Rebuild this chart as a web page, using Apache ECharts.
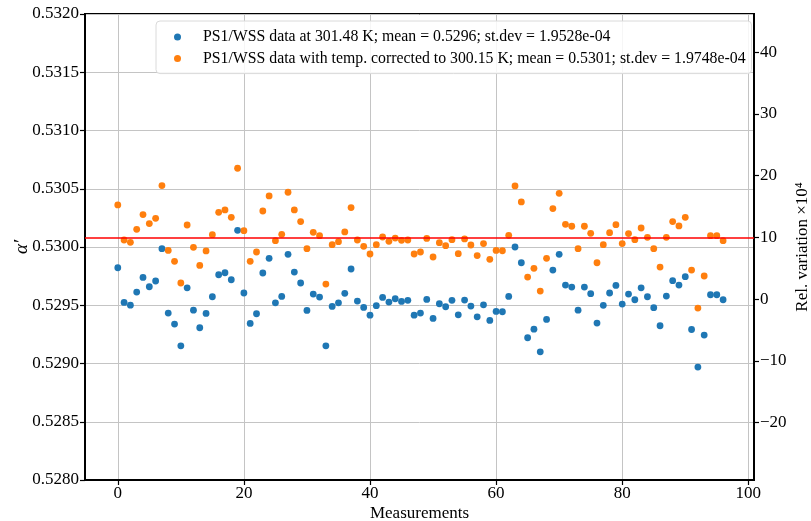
<!DOCTYPE html>
<html><head><meta charset="utf-8">
<script src="https://cdn.jsdelivr.net/npm/echarts@6/dist/echarts.min.js"></script>
<style>html,body{margin:0;padding:0;background:#fff}#c{width:811px;height:521px}</style>
</head><body><div id="c"></div>
<script>
// ---- data ----
const seriesNames = [
  'PS1/WSS data at 301.48 K; mean = 0.5296; st.dev = 1.9528e-04',
  'PS1/WSS data with temp. corrected to 300.15 K; mean = 0.5301; st.dev = 1.9748e-04'
];
const rawAlpha = [0.529822,0.529524,0.529501,0.529613,0.529739,0.529659,0.529708,0.529986,0.529433,0.529338,
0.529152,0.529650,0.529458,0.529307,0.529430,0.529573,0.529762,0.529779,0.529719,0.530143,
0.529605,0.529344,0.529427,0.529777,0.529903,0.529521,0.529576,0.529937,0.529785,0.529691,
0.529456,0.529596,0.529570,0.529152,0.529490,0.529521,0.529602,0.529811,0.529536,0.529481,
0.529415,0.529496,0.529567,0.529527,0.529556,0.529533,0.529542,0.529415,0.529433,0.529550,
0.529387,0.529513,0.529487,0.529542,0.529418,0.529544,0.529493,0.529401,0.529504,0.529370,
0.529447,0.529444,0.529576,0.530000,0.529865,0.529221,0.529295,0.529100,0.529378,0.529802,
0.529937,0.529673,0.529656,0.529458,0.529656,0.529599,0.529347,0.529499,0.529605,0.529670,
0.529510,0.529596,0.529547,0.529650,0.529573,0.529479,0.529324,0.529579,0.529711,0.529673,
0.529745,0.529292,0.528969,0.529244,0.529590,0.529590,0.529547];
const correctedAlpha = [0.530361,0.530060,0.530040,0.530152,0.530278,0.530201,0.530246,0.530527,0.529971,0.529877,
0.529691,0.530189,0.529997,0.529842,0.529966,0.530106,0.530298,0.530318,0.530255,0.530676,
0.530140,0.529877,0.529957,0.530309,0.530438,0.530054,0.530109,0.530470,0.530318,0.530218,
0.529986,0.530126,0.530097,0.529682,0.530020,0.530046,0.530129,0.530338,0.530060,0.530006,
0.529940,0.530020,0.530086,0.530049,0.530077,0.530057,0.530060,0.529940,0.529957,0.530074,
0.529914,0.530037,0.530011,0.530063,0.529943,0.530069,0.530017,0.529926,0.530029,0.529894,
0.529971,0.529968,0.530100,0.530524,0.530387,0.529742,0.529817,0.529622,0.529903,0.530330,
0.530461,0.530195,0.530178,0.529986,0.530178,0.530117,0.529865,0.530020,0.530123,0.530192,
0.530029,0.530115,0.530063,0.530163,0.530083,0.529986,0.529828,0.530083,0.530218,0.530181,
0.530255,0.529802,0.529476,0.529751,0.530097,0.530097,0.530054];
const measurements = rawAlpha.map((_, i) => i);
const leftRange = [0.5280, 0.5320];
const leftStep = 0.0005;
const xRange = [-5.2, 100.9];
const xStep = 20;
const relStep = 10;
const redLineRel = 10;   // red reference line, in rel. variation x10^4

// ---- derived ----
const refMean = rawAlpha.reduce((a, b) => a + b, 0) / rawAlpha.length;
const toRel = v => (v / refMean - 1) * 1e4;
const fromRel = r => refMean * (1 + r / 1e4);
const rightRange = [toRel(leftRange[0]), toRel(leftRange[1])];

const FONT = '"Liberation Serif", "DejaVu Serif", serif';
const minus = s => String(s).replace('-', '\u2212');
const chart = echarts.init(document.getElementById('c'), null, {renderer: 'canvas'});
const axisLbl = {color: '#000', fontFamily: FONT, fontSize: 17};
chart.setOption({
  animation: false,
  backgroundColor: '#fff',
  grid: {left: 85, right: 57, top: 14, bottom: 41, show: true, borderColor: '#000', borderWidth: 2,
         backgroundColor: 'transparent', containLabel: false, outerBoundsMode: 'none'},
  legend: {
    orient: 'vertical', left: 156, top: 21,
    data: seriesNames,
    icon: 'circle', itemWidth: 7, itemHeight: 7, itemGap: 5.6,
    padding: [8, 6, 7, 18],
    borderColor: '#dadada', borderWidth: 1, borderRadius: 4,
    backgroundColor: 'rgba(255,255,255,0.85)',
    textStyle: {fontFamily: FONT, fontSize: 15.8, color: '#000', padding: [0, 0, 0, 17]}
  },
  xAxis: {
    type: 'value', min: xRange[0], max: xRange[1], minInterval: xStep, maxInterval: xStep, splitNumber: 5,
    name: 'Measurements', nameLocation: 'middle', nameGap: 25, nameMoveOverlap: false,
    nameTextStyle: {fontFamily: FONT, fontSize: 17, color: '#000'},
    axisLine: {show: true, onZero: false, lineStyle: {color: '#000', width: 2}},
    axisTick: {show: true, inside: false, length: 5, lineStyle: {color: '#000', width: 1.2}},
    axisLabel: Object.assign({showMinLabel: false, showMaxLabel: false, margin: 5}, axisLbl),
    splitLine: {show: true, lineStyle: {color: '#c4c4c4', width: 1}}
  },
  yAxis: [{
    type: 'value', min: leftRange[0], max: leftRange[1], interval: leftStep,
    name: 'α′', nameLocation: 'middle', nameGap: 54, nameRotate: 90, nameMoveOverlap: false,
    nameTextStyle: {fontFamily: FONT, fontSize: 19, color: '#000', fontStyle: 'italic'},
    axisLine: {show: true, onZero: false, lineStyle: {color: '#000', width: 2}},
    axisTick: {show: true, inside: false, length: 5, lineStyle: {color: '#000', width: 1.2}},
    axisLabel: Object.assign({margin: 6, formatter: v => v.toFixed(4)}, axisLbl),
    splitLine: {show: true, lineStyle: {color: '#c4c4c4', width: 1}}
  }, {
    type: 'value', position: 'right', min: rightRange[0], max: rightRange[1],
    minInterval: relStep, maxInterval: relStep, splitNumber: 8,
    name: 'Rel. variation ×10⁴', nameLocation: 'middle', nameGap: 40, nameRotate: 90, nameMoveOverlap: false,
    nameTextStyle: {fontFamily: FONT, fontSize: 17, color: '#000'},
    axisLine: {show: true, onZero: false, lineStyle: {color: '#000', width: 2}},
    axisTick: {show: true, inside: false, length: 5, lineStyle: {color: '#000', width: 1.2}},
    axisLabel: Object.assign({margin: 6, showMinLabel: false, showMaxLabel: false, formatter: v => minus(Math.round(v))}, axisLbl),
    splitLine: {show: false}
  }],
  series: [{
    name: seriesNames[0], type: 'scatter', symbolSize: 6.8, yAxisIndex: 0,
    itemStyle: {color: '#1f77b4', opacity: 1},
    data: measurements.map(i => [i, rawAlpha[i]]), z: 3
  }, {
    name: seriesNames[1], type: 'scatter', symbolSize: 6.8, yAxisIndex: 0,
    itemStyle: {color: '#ff7f0e', opacity: 1},
    data: measurements.map(i => [i, correctedAlpha[i]]), z: 4,
    markLine: {
      silent: true, symbol: 'none', label: {show: false}, z: 10, precision: 8,
      lineStyle: {color: '#ff0000', width: 1.5, type: 'solid'},
      data: [{yAxis: fromRel(redLineRel)}]
    }
  }]
});
</script></body></html>
